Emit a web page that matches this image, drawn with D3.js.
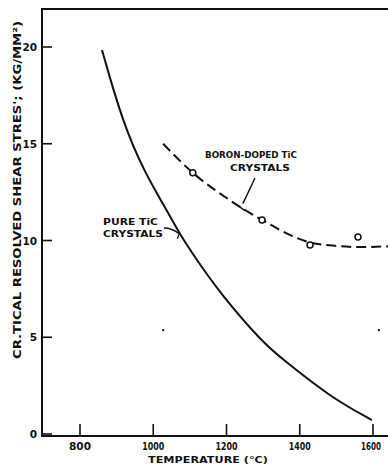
<!DOCTYPE html>
<html>
<head>
<meta charset="utf-8">
<script src="https://cdn.jsdelivr.net/npm/d3@7"></script>
<style>
  html, body { margin: 0; padding: 0; background: #fff; }
  svg { display: block; }
  text { font-family: "DejaVu Sans", sans-serif; font-weight: bold; fill: #111; }
</style>
</head>
<body>
<svg id="chart" width="388" height="467"></svg>
<script>
// Critical resolved shear stress vs temperature, TiC crystals
const xTicks = [800, 1000, 1200, 1400, 1600];
const xTickLabels = ["800", "1000", "1200", "1400", "1600"];
const yTicks = [0, 5, 10, 15, 20];
const yTickLabels = ["0", "5", "10", "15", "20"];

// Pure TiC: smooth solid curve (temperature °C, stress kg/mm²)
const pureTemp   = [860, 917, 977, 1027, 1073, 1119, 1182, 1300, 1346, 1483, 1597];
const pureStress = [19.85, 16.07, 13.5, 11.9, 10.3, 8.99, 7.29, 4.7, 3.98, 1.91, 0.72];

// Boron-doped TiC: measured points
const boronTemp   = [1108, 1297, 1428, 1559];
const boronStress = [13.5, 11.06, 9.77, 10.18];

// Boron-doped TiC: dashed fitted curve
const boronFitTemp   = [1027, 1108, 1200, 1297, 1428, 1500, 1560, 1641];
const boronFitStress = [15.0, 13.5, 12.2, 11.06, 9.9, 9.72, 9.66, 9.7];

// Small specks on the plate
const speckTemp = [1027, 1616];
const speckStress = [5.37, 5.37];

const svg = d3.select("#chart");
const x = d3.scaleLinear().domain([800, 1600]).range([80, 373]);
const y = d3.scaleLinear().domain([0, 20]).range([434, 47]);

const xMin = x.invert(42), xMax = x.invert(388);
const yTop = y.invert(9);
const ink = "#111";

// frame: left axis, bottom axis, top rule
svg.append("path")
  .attr("d", `M${x(xMax)},${y(yTop)} L${x(xMin)},${y(yTop)} L${x(xMin)},${y(0) + 2} L${x(xMax)},${y(0) + 2}`)
  .attr("fill", "none").attr("stroke", ink).attr("stroke-width", 2);

// y ticks (inward) and labels
const yAxis = svg.append("g");
yTicks.forEach((v, i) => {
  yAxis.append("line")
    .attr("x1", x(xMin)).attr("x2", x(xMin) + 10)
    .attr("y1", y(v)).attr("y2", y(v))
    .attr("stroke", ink).attr("stroke-width", 1.6);
  yAxis.append("text")
    .attr("x", x(xMin) - 5).attr("y", y(v) + 4)
    .attr("text-anchor", "end").attr("font-size", 10.5)
    .text(yTickLabels[i]);
});

// x ticks (inward) and labels
const xAxis = svg.append("g");
xTicks.forEach((v, i) => {
  xAxis.append("line")
    .attr("x1", x(v)).attr("x2", x(v))
    .attr("y1", y(0) + 2).attr("y2", y(0) - 10)
    .attr("stroke", ink).attr("stroke-width", 1.6);
  const last = i === xTicks.length - 1;
  xAxis.append("text")
    .attr("x", last ? x(v) - 2 : x(v)).attr("y", 450)
    .attr("text-anchor", "middle").attr("font-size", 10)
    .attr("textLength", last ? 20 : 22).attr("lengthAdjust", "spacingAndGlyphs")
    .text(xTickLabels[i]);
});

// axis titles
svg.append("text")
  .attr("transform", "translate(21,190) rotate(-90)")
  .attr("text-anchor", "middle").attr("font-size", 10.5)
  .attr("textLength", 338).attr("lengthAdjust", "spacingAndGlyphs")
  .text("CR.TICAL RESOLVED SHEAR STRES'; (KG/MM²)");

svg.append("text")
  .attr("x", 208).attr("y", 463)
  .attr("text-anchor", "middle").attr("font-size", 9.5)
  .attr("textLength", 120).attr("lengthAdjust", "spacingAndGlyphs")
  .text("TEMPERATURE (°C)");

const line = d3.line().curve(d3.curveBasis);

// pure TiC curve
svg.append("path")
  .attr("d", line(pureTemp.map((t, i) => [x(t), y(pureStress[i])])))
  .attr("fill", "none").attr("stroke", ink).attr("stroke-width", 2);

// boron-doped dashed curve
svg.append("path")
  .attr("d", d3.line().curve(d3.curveMonotoneX)(boronFitTemp.map((t, i) => [x(t), y(boronFitStress[i])])))
  .attr("fill", "none").attr("stroke", ink).attr("stroke-width", 2)
  .attr("stroke-dasharray", "10,5");

// boron-doped measured points
svg.append("g").selectAll("circle")
  .data(boronTemp.map((t, i) => [t, boronStress[i]]))
  .join("circle")
  .attr("cx", d => x(d[0])).attr("cy", d => y(d[1]))
  .attr("r", 3).attr("fill", "#fff").attr("stroke", ink).attr("stroke-width", 1.5);

// specks
svg.append("g").selectAll("circle")
  .data(speckTemp.map((t, i) => [t, speckStress[i]]))
  .join("circle")
  .attr("cx", d => x(d[0])).attr("cy", d => y(d[1]))
  .attr("r", 1.2).attr("fill", ink);

// curve labels
const pureLbl = svg.append("g").attr("font-size", 9.5);
pureLbl.append("text").attr("x", 103).attr("y", 225)
  .attr("textLength", 55).attr("lengthAdjust", "spacingAndGlyphs").text("PURE TiC");
pureLbl.append("text").attr("x", 103).attr("y", 237)
  .attr("textLength", 60).attr("lengthAdjust", "spacingAndGlyphs").text("CRYSTALS");

// leader to pure curve
const pAnchor = [x(1071), y(10.35)];
svg.append("path")
  .attr("d", `M164,228 Q172,228 ${pAnchor[0]},${pAnchor[1]} M${pAnchor[0] - 2},${pAnchor[1] + 5} L${pAnchor[0]},${pAnchor[1]}`)
  .attr("fill", "none").attr("stroke", ink).attr("stroke-width", 1.3);

const boronLbl = svg.append("g").attr("font-size", 9.5).attr("text-anchor", "middle");
boronLbl.append("text").attr("x", 251).attr("y", 158)
  .attr("textLength", 92).attr("lengthAdjust", "spacingAndGlyphs").text("BORON-DOPED TiC");
boronLbl.append("text").attr("x", 260).attr("y", 171)
  .attr("textLength", 60).attr("lengthAdjust", "spacingAndGlyphs").text("CRYSTALS");

// leader to boron curve
const bAnchor = [x(1242), y(11.7)];
svg.append("path")
  .attr("d", `M255,178 L${bAnchor[0] + 1},${bAnchor[1] - 4} M${bAnchor[0] - 4},${bAnchor[1] - 2} L${bAnchor[0] + 3},${bAnchor[1] + 3}`)
  .attr("fill", "none").attr("stroke", ink).attr("stroke-width", 1.4);
</script>
</body>
</html>
